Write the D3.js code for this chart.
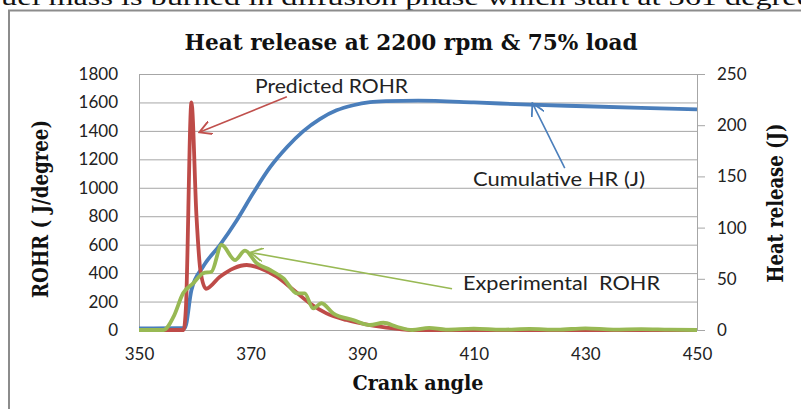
<!DOCTYPE html>
<html>
<head>
<meta charset="utf-8">
<style>
    body { margin: 0; background: #fff; }
    text { font-family: Lato, "Open Sans", sans-serif; }
    .serif { font-family: "DejaVu Serif", serif; font-weight: bold; fill: #111; }
</style>
</head>
<body>
<svg id="chart" width="801" height="409"></svg>
<script src="https://cdn.jsdelivr.net/npm/d3@7"></script>
<script>
// predicted rate of heat release (J/degree)
let predCrank = [350, 358, 358.4, 359.4, 360.3, 361, 362, 364.5, 367, 369.3, 371.7, 374.7, 377.7, 380.6, 383.6, 387.2, 391.4, 395.6, 398.5, 410, 420, 430, 440, 450]
let predRohr  = [0, 0, 150, 1600, 800, 420, 290, 375, 435, 457, 435, 375, 281, 188, 117, 70, 35, 12, 0, 0, 0, 0, 0, 0]

// experimental rate of heat release (J/degree)
let expCrank = [350, 354.4, 356.2, 357.9, 359.7, 361.5, 363, 364.8, 367.2, 369, 371.1, 373.5, 375.9, 378.3, 379.7, 381.2, 382.7, 384.8, 388.4, 391.4, 393.8, 396.2, 399, 402, 405, 410, 415, 420, 425, 430, 435, 440, 445, 450]
let expRohr  = [0, 0, 94, 258, 328, 399, 410, 598, 492, 558, 469, 422, 363, 258, 258, 152, 188, 117, 70, 35, 51, 23, 0, 15, 3, 10, 2, 8, 2, 12, 3, 6, 2, 0]

// cumulative heat release (J), right axis
let cumCrank = [350, 358.2, 359.4, 361.5, 364.5, 367.5, 370.5, 373.5, 376.5, 379.4, 382.4, 385.4, 388.4, 391.4, 394.4, 400, 410, 420, 430, 440, 450]
let cumHr    = [1.5, 2, 39, 62, 83, 107, 134, 159, 178.5, 194, 206, 214.5, 219.5, 222.5, 223.5, 224, 222.3, 220, 218.5, 217, 215.5]

let xTicks = [350, 370, 390, 410, 430, 450]
let leftTicks = d3.range(0, 1801, 200)
let rightTicks = d3.range(0, 251, 50)

let svg = d3.select("#chart")

// text cut off at the top of the picture
svg.append("text")
    .attr("x", 1).attr("y", 5)
    .attr("textLength", 810).attr("lengthAdjust", "spacingAndGlyphs")
    .style("font-family", "'Liberation Serif', serif")
    .style("font-size", "24px").attr("fill", "#111")
    .text("uel mass is burned in diffusion phase which start at 361 degree")

// chart frame
svg.append("rect")
    .attr("x", 9).attr("y", 10.5).attr("width", 820).attr("height", 420)
    .attr("fill", "none").attr("stroke", "#8c8c8c").attr("stroke-width", 2)

let plotL = 139, plotR = 697, plotT = 74, plotB = 330

let x = d3.scaleLinear().domain([350, 450]).range([plotL, plotR])
let yL = d3.scaleLinear().domain([0, 1800]).range([plotB, plotT])
let yR = d3.scaleLinear().domain([0, 250]).range([plotB, plotT])

// grid + left axis
let gLeft = svg.append("g").attr("transform", `translate(${plotL},0)`)
    .call(d3.axisLeft(yL).tickValues(leftTicks).tickFormat(d3.format("d"))
        .tickSize(-(plotR - plotL)).tickPadding(21))
gLeft.select(".domain").attr("stroke", "#a6a6a6")
gLeft.selectAll(".tick line").attr("stroke", "#a6a6a6")
gLeft.selectAll(".tick text").style("font-size", "17px").attr("fill", "#222")

// right axis
let gRight = svg.append("g").attr("transform", `translate(${plotR},0)`)
    .call(d3.axisRight(yR).tickValues(rightTicks).tickSize(8).tickPadding(12))
gRight.select(".domain").attr("stroke", "#a6a6a6")
gRight.selectAll(".tick line").attr("stroke", "#a6a6a6")
gRight.selectAll(".tick text").style("font-size", "17px").attr("fill", "#222")

// bottom axis
let gBottom = svg.append("g").attr("transform", `translate(0,${plotB})`)
    .call(d3.axisBottom(x).tickValues(xTicks).tickSize(0).tickPadding(18))
gBottom.select(".domain").attr("stroke", "#a6a6a6")
gBottom.selectAll(".tick text").style("font-size", "17px").attr("fill", "#222")

// curves
let cumLine = d3.line().x(d => x(d[0])).y(d => yR(d[1])).curve(d3.curveMonotoneX)
let rohrLine = d3.line().x(d => x(d[0])).y(d => yL(d[1])).curve(d3.curveMonotoneX)

svg.append("path").datum(d3.zip(cumCrank, cumHr))
    .attr("d", cumLine).attr("fill", "none")
    .attr("stroke", "#4a7ebb").attr("stroke-width", 3.8).attr("stroke-linejoin", "round")

svg.append("path").datum(d3.zip(predCrank, predRohr))
    .attr("d", rohrLine).attr("fill", "none")
    .attr("stroke", "#be4b48").attr("stroke-width", 3.8).attr("stroke-linejoin", "round")

svg.append("path").datum(d3.zip(expCrank, expRohr))
    .attr("d", rohrLine).attr("fill", "none")
    .attr("stroke", "#98b954").attr("stroke-width", 3.8).attr("stroke-linejoin", "round")

// callouts: label text, arrow start and tip in data units
let callouts = [
    { text: "Predicted ROHR", tx: 255, ty: 93, len: 153, from: [376.5, 1640], to: [360.8, 1390], color: "#c0504d", axis: yL },
    { text: "Cumulative HR (J)", tx: 473, ty: 186, len: 172, from: [426.3, 158], to: [420.5, 221.5], color: "#4a7ebb", axis: yR },
    { text: "Experimental  ROHR", tx: 463, ty: 290, len: 197, from: [406.1, 290], to: [370, 545], color: "#98b954", axis: yL }
]

let defs = svg.append("defs")
callouts.forEach((c, i) => {
    defs.append("marker").attr("id", "arr" + i)
        .attr("viewBox", "0 0 10 10").attr("refX", 9).attr("refY", 5)
        .attr("markerWidth", 14).attr("markerHeight", 14)
        .attr("markerUnits", "userSpaceOnUse").attr("orient", "auto")
        .append("path").attr("d", "M0,0 L9,5 L0,10")
        .attr("fill", "none").attr("stroke", c.color).attr("stroke-width", 1.3)

    svg.append("line")
        .attr("x1", x(c.from[0])).attr("y1", c.axis(c.from[1]))
        .attr("x2", x(c.to[0])).attr("y2", c.axis(c.to[1]))
        .attr("stroke", c.color).attr("stroke-width", 1.6)
        .attr("marker-end", `url(#arr${i})`)

    svg.append("text")
        .attr("x", c.tx).attr("y", c.ty)
        .attr("textLength", c.len).attr("lengthAdjust", "spacingAndGlyphs")
        .style("font-size", "18.5px").attr("fill", "#222")
        .style("white-space", "pre")
        .text(c.text)
})

// titles
svg.append("text").attr("class", "serif")
    .attr("x", 411).attr("y", 50).attr("text-anchor", "middle")
    .attr("textLength", 453).attr("lengthAdjust", "spacingAndGlyphs")
    .style("font-size", "23px")
    .text("Heat release at 2200 rpm & 75% load")

svg.append("text").attr("class", "serif")
    .attr("transform", "translate(48,209) rotate(-90)").attr("text-anchor", "middle")
    .attr("textLength", 178).attr("lengthAdjust", "spacingAndGlyphs")
    .style("font-size", "22px")
    .text("ROHR ( J/degree)")

svg.append("text").attr("class", "serif")
    .attr("transform", "translate(783,203) rotate(-90)").attr("text-anchor", "middle")
    .attr("textLength", 159).attr("lengthAdjust", "spacingAndGlyphs")
    .style("font-size", "22px")
    .text("Heat release (J)")

svg.append("text").attr("class", "serif")
    .attr("x", 418).attr("y", 390).attr("text-anchor", "middle")
    .attr("textLength", 131).attr("lengthAdjust", "spacingAndGlyphs")
    .style("font-size", "20px")
    .text("Crank angle")
</script>
</body>
</html>
